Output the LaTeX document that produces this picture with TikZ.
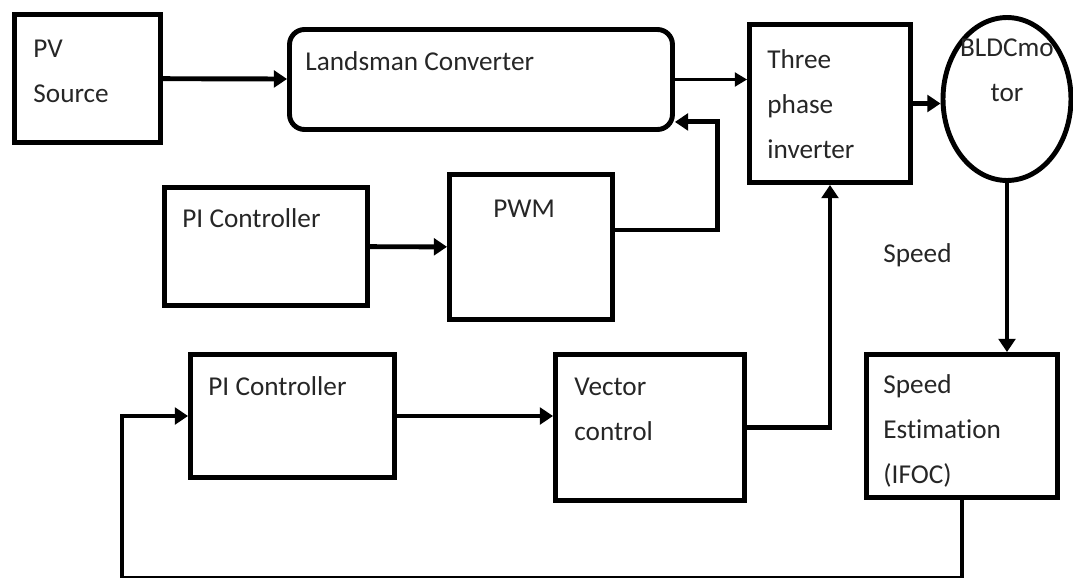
\documentclass[tikz,border=0pt]{standalone}
\usepackage{fontspec}
\setmainfont{Carlito}[Ligatures={NoCommon}]
\usetikzlibrary{positioning,calc,arrows.meta,shapes.geometric}

\begin{document}
\begin{tikzpicture}[x=0.02cm, y=-0.02cm,
  font=\fontsize{15.5pt}{25.5pt}\selectfont,
  box/.style={draw, line width=2.8pt, inner sep=0pt},
  txt/.style={inner sep=0pt, align=left, anchor=base west, text=black!85},
  arr/.style={-{Triangle[length=7.5pt, width=9.5pt]}, line width=2.8pt},
  thinarr/.style={-{Triangle[length=7pt, width=8pt]}, line width=1.3pt}]
\useasboundingbox (0,0) rectangle (1073,578);
\node[box, minimum width=2.92cm, minimum height=2.56cm] (pv) at (87.5,78.5) {};
\node[box, rounded corners=0.3cm, minimum width=7.66cm, minimum height=2cm] (lc) at (481,79.5) {};
\node[box, minimum width=3.22cm, minimum height=3.16cm] (inv) at (830,103.5) {};
\node[box, ellipse, minimum width=2.56cm, minimum height=3.26cm] (mot) at (1007,99) {};
\node[box, minimum width=4.06cm, minimum height=2.36cm] (pi1) at (266,246.5) {};
\node[box, minimum width=3.26cm, minimum height=2.9cm] (pwm) at (531,247) {};
\node[box, minimum width=4.08cm, minimum height=2.46cm] (pi2) at (292.5,416) {};
\node[box, minimum width=3.78cm, minimum height=2.92cm] (vec) at (650,427.5) {};
\node[box, minimum width=3.82cm, minimum height=2.86cm] (est) at (962,426) {};
\node[txt] (pvt) at ([shift={(21,90)}]pv.north west) {PV\\Source};
\node[txt] (lct) at ([shift={(18,43)}]lc.north west) {Landsman Converter};
\node[txt] (invt) at ([shift={(20,136)}]inv.north west) {Three\\phase\\inverter};
\node[txt, align=center, anchor=base] (mott) at ([shift={(0,86)}]mot.north) {BLDCmo\\tor};
\node[txt] (pi1t) at ([shift={(20,42)}]pi1.north west) {PI Controller};
\node[txt] (pwmt) at ([shift={(46,45)}]pwm.north west) {PWM};
\node[txt] (pi2t) at ([shift={(20,43)}]pi2.north west) {PI Controller};
\node[txt] (vect) at ([shift={(21,88)}]vec.north west) {Vector\\control};
\node[txt] (estt) at ([shift={(19,131)}]est.north west) {Speed\\Estimation\\(IFOC)};
\node[txt] (spd) at (883,262) {Speed};
\coordinate (fb) at (122,578);
\draw[arr] (pv) -- (lc);
\draw[thinarr] (lc.east) -- (lc.east -| inv.west);
\draw[arr] (inv.east) -- (inv.east -| mot.west);
\draw[arr] (pi1) -- (pwm);
\draw[arr] ($(pwm.east)+(0,-17)$) -- ++(103,0) |- ($(lc.south east)+(0,-10)$);
\draw[arr] (pi2.east) -- (pi2.east -| vec.west);
\draw[arr] (vec.east) -| (inv.south);
\draw[arr] (mot.south) -- (mot.south |- est.north);
\draw[arr] (est.south) |- (fb) |- (pi2.west);
\end{tikzpicture}
\end{document}
